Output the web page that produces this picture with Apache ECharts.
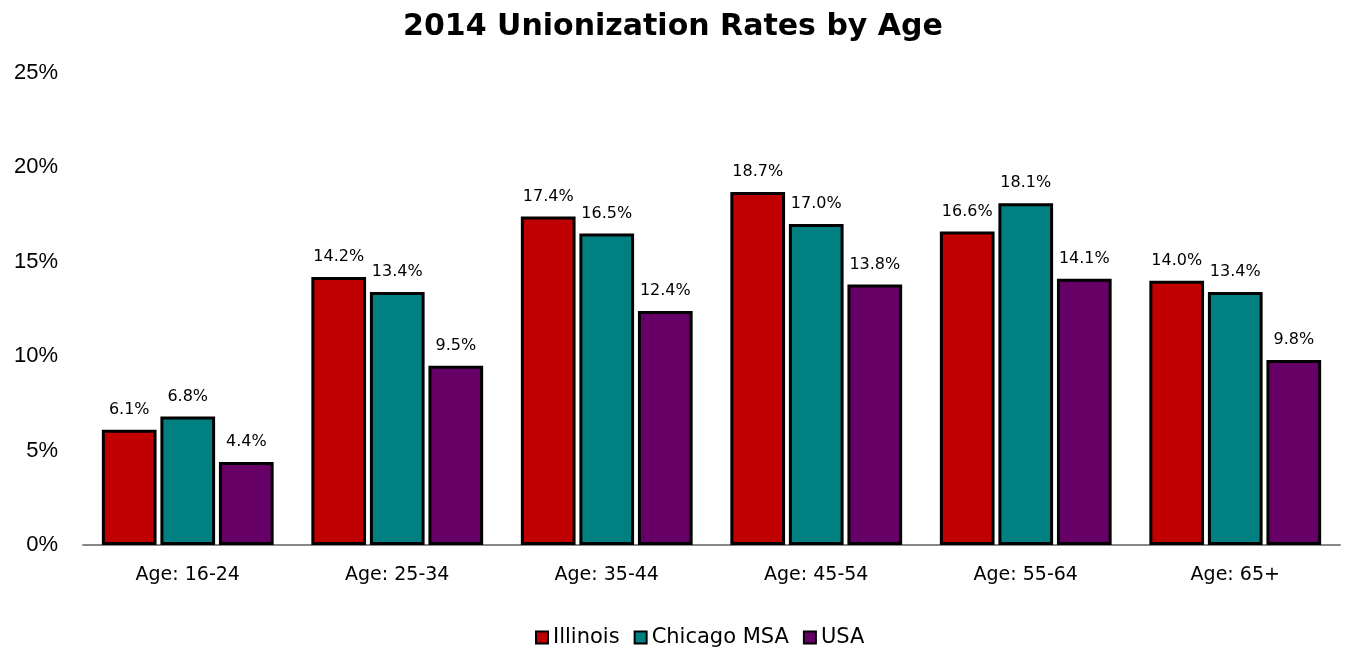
<!DOCTYPE html>
<html>
<head>
<meta charset="utf-8">
<script src="https://cdn.jsdelivr.net/npm/echarts@6/dist/echarts.min.js"></script>
<style>
  html, body { margin: 0; padding: 0; background: #fff; }
  #chart { width: 1346px; height: 649px; }
</style>
</head>
<body>
<div id="chart"></div>
<script>
var categories = ['Age: 16-24', 'Age: 25-34', 'Age: 35-44', 'Age: 45-54', 'Age: 55-64', 'Age: 65+'];
var illinois = [6.1, 14.2, 17.4, 18.7, 16.6, 14.0];
var chicago = [6.8, 13.4, 16.5, 17.0, 18.1, 13.4];
var usa = [4.4, 9.5, 12.4, 13.8, 14.1, 9.8];

var chart = echarts.init(document.getElementById('chart'));

function barSeries(name, data, color) {
    return {
        name: name,
        type: 'bar',
        data: data,
        barGap: '7%',
        barCategoryGap: '18%',
        itemStyle: { color: color, borderColor: '#000', borderWidth: 3 },
        label: {
            show: true,
            position: 'top',
            distance: 12,
            color: '#000',
            fontSize: 16,
            fontFamily: 'DejaVu Sans',
            formatter: function (p) { return p.value.toFixed(1) + '%'; }
        }
    };
}

var option = {
    animation: false,
    title: {
        text: '2014 Unionization Rates by Age',
        left: 'center',
        top: 7,
        textStyle: { fontSize: 30, fontWeight: 'bold', fontFamily: 'DejaVu Sans', color: '#000' }
    },
    legend: {
        top: 622,
        left: 530,
        icon: 'rect',
        itemWidth: 12,
        itemHeight: 12,
        itemGap: 14,
        textStyle: { fontSize: 21, fontFamily: 'DejaVu Sans', color: '#000' },
        data: [
            { name: 'Illinois', itemStyle: { borderColor: '#000', borderWidth: 2 } },
            { name: 'Chicago MSA', itemStyle: { borderColor: '#000', borderWidth: 2 } },
            { name: 'USA', itemStyle: { borderColor: '#000', borderWidth: 2 } }
        ]
    },
    grid: { left: 83, right: 6, top: 73, bottom: 104 },
    xAxis: {
        type: 'category',
        data: categories,
        axisLine: { lineStyle: { color: '#888', width: 2 } },
        axisTick: { show: false },
        axisLabel: { fontSize: 19, fontFamily: 'DejaVu Sans', color: '#000', margin: 21 }
    },
    yAxis: {
        type: 'value',
        min: 0,
        max: 25,
        interval: 5,
        splitLine: { show: false },
        axisLabel: {
            fontSize: 22,
            fontFamily: 'Liberation Sans',
            color: '#000',
            margin: 25,
            formatter: '{value}%'
        }
    },
    series: [
        barSeries('Illinois', illinois, '#C00000'),
        barSeries('Chicago MSA', chicago, '#008080'),
        barSeries('USA', usa, '#660066')
    ]
};

chart.setOption(option);
</script>
</body>
</html>
